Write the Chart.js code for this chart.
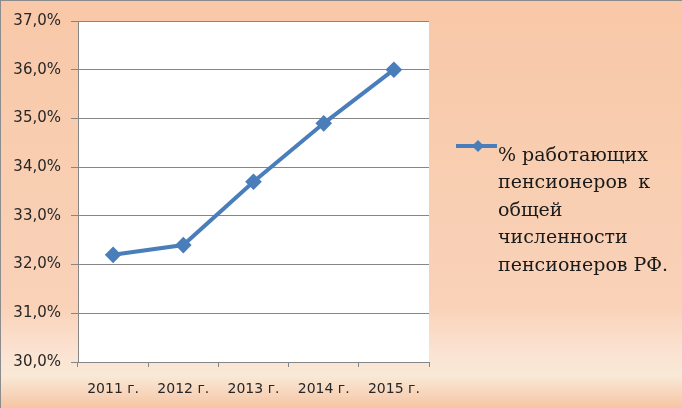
<!DOCTYPE html>
<html lang="ru">
<head>
<meta charset="UTF-8">
<title>Работающие пенсионеры</title>
<script src="https://cdn.jsdelivr.net/npm/chart.js"></script>
<style>
  html, body { margin: 0; padding: 0; }
  #wrap { width: 682px; height: 408px; }
</style>
</head>
<body>
<div id="wrap"><canvas id="chart"></canvas></div>
<script>
    // данные
    const years = ['2011 г.', '2012 г.', '2013 г.', '2014 г.', '2015 г.'];
    const shareWorking = [32.2, 32.4, 33.7, 34.9, 36.0];
    const seriesLabel = '% работающих пенсионеров к общей численности пенсионеров РФ.';
    // строки легенды: [левая часть, правая часть]
    const legendLines = [['% работающих', ''], ['пенсионеров', 'к'], ['общей', ''], ['численности', ''], ['пенсионеров РФ.', '']];

    const lineColor = '#4A7EBB';

    // фон и белая область графика
    const bgPlugin = {
        id: 'bg',
        beforeDraw(chart) {
            const c = chart.ctx;
            const w = chart.width, h = chart.height;
            const g = c.createLinearGradient(0, 0, 0, h);
            g.addColorStop(0, '#F8C8A8');
            g.addColorStop(0.75, '#F9D2B8');
            g.addColorStop(0.86, '#FBE2D1');
            g.addColorStop(0.92, '#F9E9D7');
            g.addColorStop(1, '#F6C5A4');
            c.save();
            c.fillStyle = g;
            c.fillRect(0, 0, w, h);
            c.strokeStyle = '#8C8C8C';
            c.lineWidth = 2;
            c.beginPath();
            c.moveTo(0, h);
            c.lineTo(0, 0);
            c.lineTo(w, 0);
            c.stroke();
            const a = chart.chartArea;
            c.fillStyle = '#FFFFFF';
            c.fillRect(a.left, a.top, a.right - a.left, a.bottom - a.top);
            c.restore();
        }
    };

    // легенда справа, в несколько строк
    const legendPlugin = {
        id: 'sideLegend',
        afterDraw(chart) {
            const c = chart.ctx;
            c.save();
            c.strokeStyle = lineColor;
            c.lineWidth = 4;
            c.beginPath();
            c.moveTo(456, 146);
            c.lineTo(497, 146);
            c.stroke();
            c.fillStyle = lineColor;
            c.beginPath();
            c.moveTo(478, 140);
            c.lineTo(484, 146);
            c.lineTo(478, 152);
            c.lineTo(472, 146);
            c.closePath();
            c.fill();
            c.fillStyle = '#1A1A1A';
            c.font = '19px "DejaVu Serif", "Liberation Serif", serif';
            c.textBaseline = 'middle';
            legendLines.forEach(function (t, i) {
                const y = 156 + i * 27.5;
                c.textAlign = 'left';
                c.fillText(t[0], 498, y);
                if (t[1]) {
                    c.textAlign = 'right';
                    c.fillText(t[1], 650, y);
                }
            });
            c.restore();
        }
    };

    const chart = new Chart(document.getElementById('chart'), {
        type: 'line',
        data: {
            labels: years,
            datasets: [{
                label: seriesLabel,
                data: shareWorking,
                borderColor: lineColor,
                backgroundColor: lineColor,
                borderWidth: 4,
                pointStyle: 'rectRot',
                pointRadius: 5.5,
                pointHoverRadius: 5.5,
                tension: 0
            }]
        },
        options: {
            responsive: true,
            maintainAspectRatio: false,
            animation: false,
            layout: { padding: { top: 21, right: 253, left: 0, bottom: 0 } },
            plugins: {
                legend: { display: false },
                tooltip: { enabled: false }
            },
            scales: {
                x: {
                    offset: true,
                    afterFit(scale) { scale.height = 46; },
                    grid: {
                        offset: true,
                        drawOnChartArea: false,
                        drawTicks: true,
                        tickLength: 5,
                        color: '#868686'
                    },
                    border: { display: true, color: '#868686' },
                    ticks: {
                        padding: 14,
                        color: '#262626',
                        font: { family: 'DejaVu Sans', size: 14 }
                    }
                },
                y: {
                    min: 30,
                    max: 37,
                    afterFit(scale) { scale.width = 78; },
                    grid: {
                        color: '#868686',
                        tickLength: 7,
                        drawTicks: true
                    },
                    border: { display: true, color: '#868686' },
                    ticks: {
                        stepSize: 1,
                        padding: 10,
                        color: '#262626',
                        font: { family: 'DejaVu Sans', size: 15 },
                        callback: function (v) { return v.toFixed(1).replace('.', ',') + '%'; }
                    }
                }
            }
        },
        plugins: [bgPlugin, legendPlugin]
    });
</script>
</body>
</html>
